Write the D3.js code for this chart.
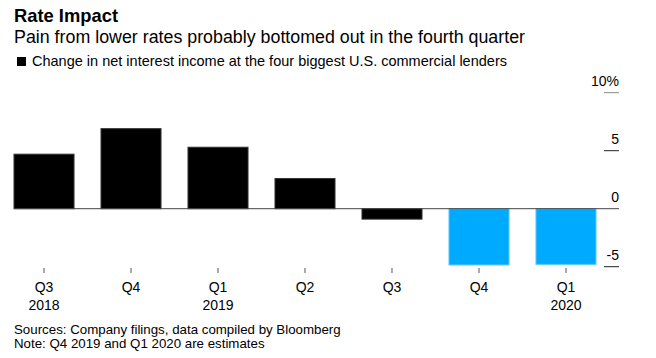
<!DOCTYPE html>
<html>
<head>
<meta charset="utf-8">
<script src="https://cdn.jsdelivr.net/npm/d3@7"></script>
<style>
  body { margin: 0; background: #fff; }
  svg { display: block; }
  text { font-family: "Liberation Sans", Arial, sans-serif; fill: #000; }
</style>
</head>
<body>
<svg id="chart" width="656" height="358"></svg>
<script>
// quarter labels, year labels under them, values in %
const quarters = ["Q3", "Q4", "Q1", "Q2", "Q3", "Q4", "Q1"];
const years = ["2018", "", "2019", "", "", "", "2020"];
const netInterestChange = [4.7, 6.9, 5.3, 2.6, -0.9, -4.85, -4.8];
const isEstimate = [false, false, false, false, false, true, true];
const yTicks = [-5, 0, 5, 10];

const svg = d3.select('#chart');

// header
svg.append('text')
    .attr('x', 14).attr('y', 22)
    .attr('font-size', 18.5).attr('font-weight', 'bold')
    .attr('textLength', 104).attr('lengthAdjust', 'spacingAndGlyphs')
    .text('Rate Impact');
svg.append('text')
    .attr('x', 14).attr('y', 43)
    .attr('font-size', 17.5)
    .attr('textLength', 511).attr('lengthAdjust', 'spacingAndGlyphs')
    .text('Pain from lower rates probably bottomed out in the fourth quarter');
svg.append('rect')
    .attr('x', 17).attr('y', 57).attr('width', 9).attr('height', 9)
    .attr('fill', '#000');
svg.append('text')
    .attr('x', 32).attr('y', 66)
    .attr('font-size', 14.3)
    .attr('textLength', 475).attr('lengthAdjust', 'spacingAndGlyphs')
    .text('Change in net interest income at the four biggest U.S. commercial lenders');

// scales
const x = d3.scaleBand()
    .domain(d3.range(quarters.length))
    .range([14, 596])
    .paddingInner(0.31)
    .paddingOuter(0);

const y = d3.scaleLinear()
    .domain([-5, 10])
    .range([266.7, 92.7]);

// bars
svg.selectAll('rect.bar')
    .data(netInterestChange)
    .enter()
    .append('rect')
    .attr('class', 'bar')
    .attr('x', (d, i) => x(i))
    .attr('width', x.bandwidth())
    .attr('y', d => y(Math.max(0, d)))
    .attr('height', d => Math.abs(y(d) - y(0)))
    .attr('fill', (d, i) => isEstimate[i] ? '#00aaff' : '#000')
    .attr('stroke', (d, i) => isEstimate[i] ? '#5cc8ff' : '#333')
    .attr('stroke-width', 1);

// zero line
svg.append('line')
    .attr('x1', 14).attr('x2', 619)
    .attr('y1', y(0)).attr('y2', y(0))
    .attr('stroke', '#444').attr('stroke-width', 1);

// y axis on the right, labels sit above the tick lines
const yAxis = svg.append('g').attr('class', 'y-axis');
yTicks.forEach(t => {
    if (t !== 0) {
        yAxis.append('line')
            .attr('x1', 604).attr('x2', 619)
            .attr('y1', y(t)).attr('y2', y(t))
            .attr('stroke', t === 10 ? '#888' : '#222').attr('stroke-width', 1);
    }
    yAxis.append('text')
        .attr('x', 619).attr('y', y(t) - 7)
        .attr('text-anchor', 'end')
        .attr('font-size', 14)
        .text(t === 10 ? '10%' : t);
});

// x axis ticks and labels
const xAxis = svg.append('g').attr('class', 'x-axis');
quarters.forEach((q, i) => {
    const cx = x(i) + x.bandwidth() / 2;
    xAxis.append('line')
        .attr('x1', cx).attr('x2', cx)
        .attr('y1', 268).attr('y2', 273)
        .attr('stroke', '#555');
    xAxis.append('text')
        .attr('x', cx).attr('y', 292)
        .attr('text-anchor', 'middle')
        .attr('font-size', 14)
        .text(q);
    if (years[i]) {
        xAxis.append('text')
            .attr('x', cx).attr('y', 310)
            .attr('text-anchor', 'middle')
            .attr('font-size', 14)
            .text(years[i]);
    }
});

// footer
svg.append('text')
    .attr('x', 14).attr('y', 334)
    .attr('font-size', 13.3)
    .attr('fill', '#222')
    .text('Sources: Company filings, data compiled by Bloomberg');
svg.append('text')
    .attr('x', 14).attr('y', 348)
    .attr('font-size', 13.3)
    .attr('fill', '#222')
    .text('Note: Q4 2019 and Q1 2020 are estimates');
</script>
</body>
</html>
